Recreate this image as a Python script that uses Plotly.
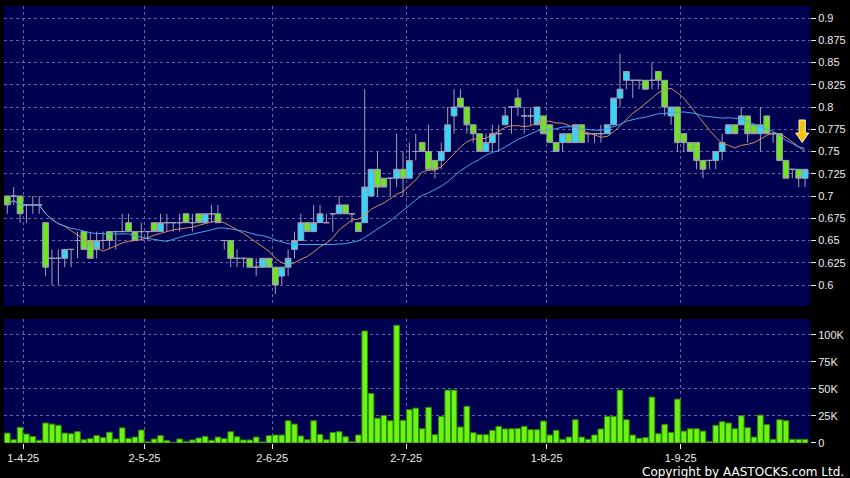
import pandas as pd
import plotly.graph_objects as go

# ---------------- data ----------------
hk_holidays = ["2025-04-04", "2025-04-18", "2025-04-21", "2025-05-01", "2025-05-05", "2025-07-01"]
dates = [d for d in pd.bdate_range("2025-03-27", "2025-09-26") if d.strftime("%Y-%m-%d") not in hk_holidays]

opens = [0.70, 0.70, 0.70, 0.69, 0.69, 0.69, 0.67, 0.63, 0.63, 0.63,
         0.64, 0.65, 0.66, 0.65, 0.64, 0.65, 0.66, 0.66, 0.66, 0.67,
         0.66, 0.66, 0.66, 0.67, 0.66, 0.67, 0.67, 0.67, 0.68, 0.67,
         0.68, 0.67, 0.68, 0.68, 0.65, 0.65, 0.63, 0.63, 0.63, 0.62,
         0.62, 0.63, 0.62, 0.61, 0.62, 0.64, 0.65, 0.67, 0.66, 0.67,
         0.67, 0.68, 0.68, 0.69, 0.68, 0.67, 0.67, 0.70, 0.73, 0.72,
         0.72, 0.72, 0.73, 0.72, 0.75, 0.76, 0.75, 0.74, 0.74, 0.75,
         0.79, 0.81, 0.80, 0.78, 0.77, 0.75, 0.76, 0.77, 0.78, 0.80,
         0.81, 0.79, 0.79, 0.78, 0.79, 0.78, 0.76, 0.76, 0.77, 0.76,
         0.78, 0.77, 0.77, 0.77, 0.77, 0.78, 0.81, 0.83, 0.83, 0.83,
         0.83, 0.83, 0.84, 0.83, 0.79, 0.80, 0.77, 0.76, 0.76, 0.74,
         0.74, 0.74, 0.75, 0.77, 0.78, 0.78, 0.79, 0.78, 0.77, 0.79,
         0.77, 0.77, 0.74, 0.73, 0.73, 0.72]
highs = [0.70, 0.71, 0.70, 0.69, 0.70, 0.70, 0.67, 0.64, 0.64, 0.64,
         0.64, 0.66, 0.66, 0.66, 0.66, 0.66, 0.66, 0.66, 0.68, 0.68,
         0.66, 0.67, 0.66, 0.67, 0.68, 0.68, 0.67, 0.68, 0.68, 0.68,
         0.68, 0.68, 0.69, 0.69, 0.65, 0.65, 0.64, 0.63, 0.63, 0.63,
         0.63, 0.63, 0.62, 0.62, 0.64, 0.66, 0.68, 0.67, 0.69, 0.69,
         0.68, 0.68, 0.70, 0.69, 0.68, 0.67, 0.82, 0.73, 0.75, 0.72,
         0.72, 0.77, 0.75, 0.76, 0.77, 0.76, 0.78, 0.74, 0.76, 0.80,
         0.82, 0.82, 0.80, 0.78, 0.77, 0.77, 0.78, 0.78, 0.80, 0.80,
         0.82, 0.80, 0.80, 0.80, 0.79, 0.78, 0.76, 0.77, 0.77, 0.78,
         0.78, 0.77, 0.77, 0.78, 0.78, 0.81, 0.86, 0.84, 0.83, 0.83,
         0.83, 0.85, 0.84, 0.83, 0.80, 0.80, 0.77, 0.76, 0.76, 0.74,
         0.74, 0.75, 0.77, 0.78, 0.78, 0.80, 0.79, 0.78, 0.80, 0.79,
         0.77, 0.77, 0.74, 0.73, 0.73, 0.73]
lows = [0.68, 0.69, 0.67, 0.67, 0.68, 0.68, 0.61, 0.60, 0.60, 0.62,
        0.62, 0.63, 0.64, 0.63, 0.63, 0.64, 0.64, 0.64, 0.66, 0.66,
        0.65, 0.65, 0.65, 0.66, 0.66, 0.66, 0.66, 0.66, 0.67, 0.66,
        0.67, 0.67, 0.67, 0.67, 0.64, 0.62, 0.62, 0.62, 0.62, 0.61,
        0.62, 0.62, 0.59, 0.60, 0.61, 0.63, 0.65, 0.66, 0.66, 0.67,
        0.67, 0.66, 0.68, 0.68, 0.67, 0.66, 0.67, 0.70, 0.70, 0.71,
        0.70, 0.71, 0.70, 0.72, 0.74, 0.75, 0.73, 0.72, 0.73, 0.75,
        0.77, 0.80, 0.77, 0.76, 0.75, 0.75, 0.75, 0.75, 0.78, 0.77,
        0.79, 0.77, 0.78, 0.78, 0.77, 0.76, 0.75, 0.75, 0.76, 0.76,
        0.76, 0.76, 0.76, 0.76, 0.77, 0.78, 0.80, 0.82, 0.81, 0.82,
        0.82, 0.82, 0.82, 0.79, 0.78, 0.75, 0.75, 0.75, 0.73, 0.72,
        0.73, 0.73, 0.74, 0.77, 0.77, 0.78, 0.76, 0.77, 0.75, 0.77,
        0.76, 0.74, 0.72, 0.72, 0.71, 0.71]
closes = [0.69, 0.70, 0.68, 0.69, 0.69, 0.69, 0.62, 0.63, 0.63, 0.64,
          0.64, 0.65, 0.64, 0.63, 0.65, 0.65, 0.65, 0.66, 0.66, 0.66,
          0.65, 0.66, 0.66, 0.66, 0.67, 0.67, 0.67, 0.67, 0.67, 0.67,
          0.67, 0.68, 0.68, 0.67, 0.65, 0.63, 0.63, 0.63, 0.62, 0.62,
          0.63, 0.62, 0.60, 0.62, 0.63, 0.65, 0.67, 0.66, 0.67, 0.68,
          0.67, 0.68, 0.69, 0.68, 0.68, 0.66, 0.71, 0.73, 0.71, 0.71,
          0.72, 0.73, 0.72, 0.74, 0.75, 0.75, 0.73, 0.73, 0.75, 0.78,
          0.80, 0.80, 0.78, 0.77, 0.75, 0.76, 0.77, 0.77, 0.79, 0.80,
          0.80, 0.79, 0.79, 0.80, 0.77, 0.76, 0.75, 0.77, 0.76, 0.78,
          0.76, 0.77, 0.77, 0.77, 0.78, 0.81, 0.82, 0.84, 0.83, 0.83,
          0.82, 0.83, 0.83, 0.80, 0.80, 0.76, 0.76, 0.75, 0.74, 0.73,
          0.74, 0.75, 0.76, 0.78, 0.77, 0.79, 0.77, 0.77, 0.78, 0.77,
          0.77, 0.74, 0.72, 0.73, 0.72, 0.73]
volumes_k = [9.2, 3.0, 14.5, 8.3, 6.0, 2.5, 18.5, 17.5, 16.3, 9.2,
             8.6, 10.5, 3.0, 4.0, 7.0, 5.0, 10.0, 3.7, 14.0, 4.3,
             5.5, 12.0, 1.0, 3.7, 6.8, 2.2, 0.6, 3.7, 1.2, 2.8,
             4.6, 6.2, 2.5, 5.5, 4.0, 10.5, 5.8, 2.8, 2.8, 5.5,
             1.0, 6.8, 7.4, 7.4, 20.6, 17.5, 6.5, 3.0, 20.6, 8.0,
             3.0, 9.8, 10.5, 5.8, 1.2, 7.4, 103.7, 45.8, 23.0, 25.5,
             20.6, 109.0, 21.0, 30.8, 32.3, 13.2, 33.0, 7.7, 24.6, 49.0,
             49.0, 14.8, 34.0, 9.5, 7.7, 7.7, 11.7, 15.4, 13.0, 13.2,
             13.5, 15.4, 12.3, 12.3, 20.3, 7.4, 11.7, 3.4, 5.5, 21.5,
             5.5, 3.4, 7.4, 13.0, 24.6, 24.6, 49.0, 21.5, 7.4, 4.3,
             5.0, 42.5, 8.6, 17.2, 9.8, 40.6, 11.0, 13.2, 13.2, 11.0,
             1.2, 16.3, 19.7, 18.5, 13.2, 25.2, 14.2, 5.5, 25.8, 17.0,
             3.4, 21.5, 20.6, 3.4, 3.4, 3.4]

price_ticks = [0.6, 0.625, 0.65, 0.675, 0.7, 0.725, 0.75, 0.775, 0.8, 0.825, 0.85, 0.875, 0.9]
price_tick_text = ["0.6", "0.625", "0.65", "0.675", "0.7", "0.725", "0.75", "0.775", "0.8", "0.825", "0.85", "0.875", "0.9"]
vol_ticks = [0, 25000, 50000, 75000, 100000]
vol_tick_text = ["0", "25K", "50K", "75K", "100K"]

# ---------------- derived ----------------
n = len(closes)
idx = list(range(n))
volumes = [v * 1000 for v in volumes_k]
cs = pd.Series(closes)
ma10 = cs.rolling(10, min_periods=1).mean()
ma20 = cs.rolling(20, min_periods=1).mean()

# month boundaries (first trading day of each month after the start)
month_pos, month_lab = [], []
for i in range(1, n):
    if dates[i].month != dates[i - 1].month:
        month_pos.append(i - 0.5)
        month_lab.append(f"{dates[i].day}-{dates[i].month}-{dates[i].year % 100}")

BG = "#000050"
GRID = "#6464a0"
TXT = "#ececec"
FONT = "Liberation Sans, Arial, sans-serif"
xr = [-0.516, 125.77]

fig = go.Figure()
fig.add_trace(go.Candlestick(
    x=idx, open=opens, high=highs, low=lows, close=closes,
    increasing=dict(fillcolor="#30d8ff", line=dict(color="#a0a0b0", width=1)),
    decreasing=dict(fillcolor="#6ee61e", line=dict(color="#a0a0b0", width=1)),
    whiskerwidth=0, xaxis="x", yaxis="y", hoverinfo="skip", showlegend=False))
fig.add_trace(go.Scatter(x=idx, y=ma10, mode="lines", line=dict(color="#d98c60", width=1),
                         xaxis="x", yaxis="y", hoverinfo="skip", showlegend=False))
fig.add_trace(go.Scatter(x=idx, y=ma20, mode="lines", line=dict(color="#46a6ec", width=1),
                         xaxis="x", yaxis="y", hoverinfo="skip", showlegend=False))
fig.add_trace(go.Bar(x=idx, y=volumes, marker=dict(color="#6cf514", line=dict(color="#2e8a00", width=1)),
                     xaxis="x2", yaxis="y2", hoverinfo="skip", showlegend=False))

grid_common = dict(showgrid=True, gridcolor=GRID, griddash="3px,3px", gridwidth=1, zeroline=False)

fig.update_layout(
    width=850, height=478,
    margin=dict(l=4, r=38, t=6, b=35),
    paper_bgcolor="black", plot_bgcolor=BG,
    boxgap=0.1, boxgroupgap=0, bargap=0.12,
    font=dict(family=FONT, size=11, color=TXT),
    xaxis=dict(domain=[0, 1], anchor="y", range=xr, tickvals=month_pos, showticklabels=False,
               ticks="", rangeslider=dict(visible=False), **grid_common),
    yaxis=dict(domain=[0.3135, 1], anchor="x", range=[0.5764, 0.9135], side="right",
               tickvals=price_ticks, ticktext=price_tick_text, ticks="outside", ticklen=5,
               tickcolor=TXT, tickfont=dict(size=11, color=TXT, family=FONT), **grid_common),
    xaxis2=dict(domain=[0, 1], anchor="y2", range=xr, tickvals=month_pos, ticktext=month_lab,
                ticks="outside", ticklen=5, tickcolor=TXT,
                tickfont=dict(size=11, color=TXT, family=FONT), **grid_common),
    yaxis2=dict(domain=[0, 0.2838], anchor="x2", range=[0, 114800], side="right",
                tickvals=vol_ticks, ticktext=vol_tick_text, ticks="outside", ticklen=5,
                tickcolor=TXT, tickfont=dict(size=11, color=TXT, family=FONT), **grid_common),
)

# yellow down-arrow marker at the right edge
def px2paper(px, py):
    return (px - 4) / 808, (443 - py) / 437

pts = [(801, 120), (807.3, 120), (807.3, 133), (810.7, 133), (804.2, 142.5), (797.7, 133), (801, 133)]
path = "M " + " L ".join(f"{px2paper(a, b)[0]:.5f} {px2paper(a, b)[1]:.5f}" for a, b in pts) + " Z"
fig.add_shape(type="path", path=path, xref="paper", yref="paper",
              fillcolor="#f5c211", line=dict(color="#fff3b0", width=1))

fig.add_annotation(text="Copyright by AASTOCKS.com Ltd.", xref="paper", yref="paper",
                   x=(848 - 4) / 808, y=(443 - 472) / 437, xanchor="right", yanchor="middle",
                   showarrow=False, font=dict(size=12, color="white", family="DejaVu Sans, sans-serif"))

fig.write_html("out.html", config={"displayModeBar": False},
               post_script="document.body.style.margin='0px';document.body.style.overflow='hidden';")
